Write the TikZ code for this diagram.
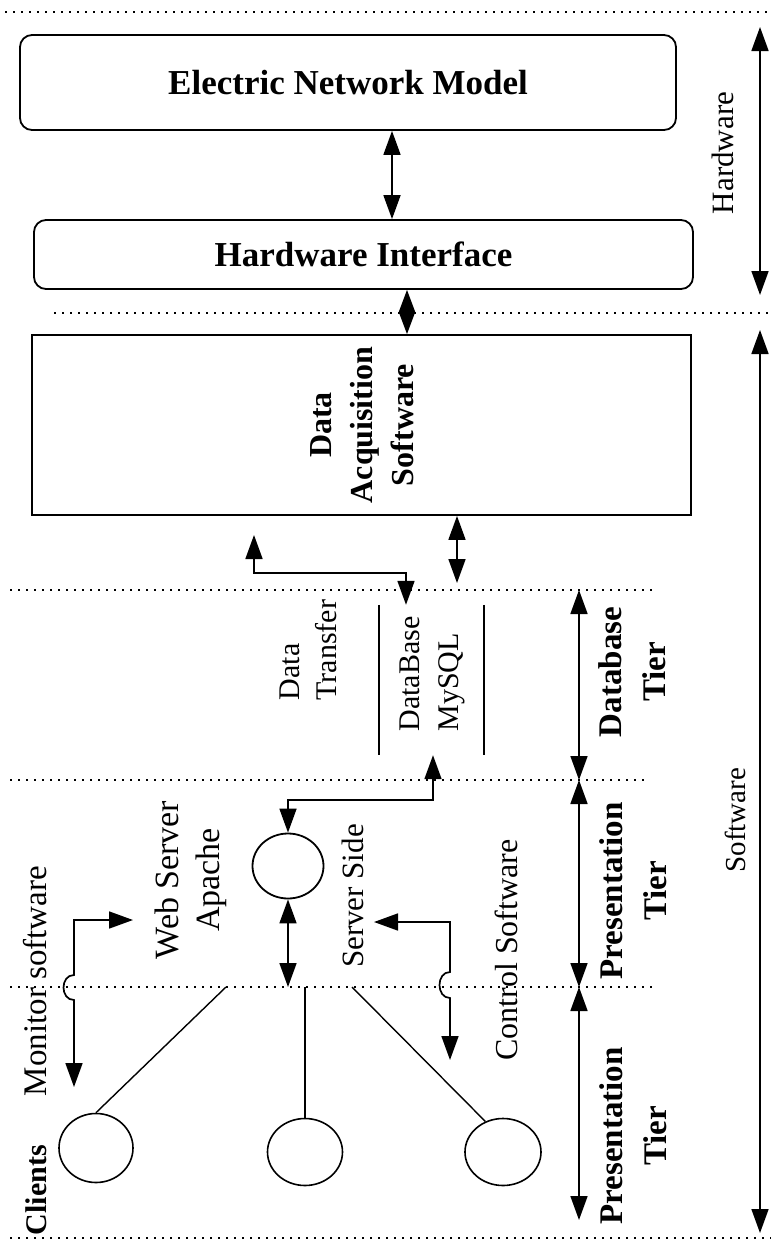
\documentclass[tikz,border=0pt]{standalone}
\usepackage{fontspec}
\setmainfont{Liberation Serif}
\usetikzlibrary{arrows.meta,shapes.geometric,calc}
\begin{document}
\begin{tikzpicture}[x=1pt,y=-1pt,
  box/.style={draw,line width=1.8pt,inner sep=0pt},
  rbox/.style={box,rounded corners=12pt},
  lbl/.style={align=center,inner sep=0pt,rotate=90},
  sep/.style={line width=1.6pt,dash pattern=on 1.6pt off 6.4pt},
  tip/.tip={Triangle[length=24pt,width=17pt]},
  dbl/.style={line width=1.7pt,tip-tip},
  cl/.style={draw,ellipse,line width=1.6pt,inner sep=0pt},
  cline/.style={line width=1.4pt}
]
\useasboundingbox (0,0) rectangle (771,1248);

% separators
\coordinate (s0a) at (5,12);   \coordinate (s0b) at (771,12);
\coordinate (s1a) at (54,313); \coordinate (s1b) at (771,313);
\coordinate (s2a) at (10,590); \coordinate (s2b) at (654,590);
\coordinate (s3a) at (10,780); \coordinate (s3b) at (649,780);
\coordinate (s4a) at (10,987); \coordinate (s4b) at (656,987);
\coordinate (s5a) at (10,1238);\coordinate (s5b) at (771,1238);
\foreach \a/\b in {s0a/s0b,s1a/s1b,s2a/s2b,s3a/s3b,s4a/s4b,s5a/s5b}
  \draw[sep] (\a) -- (\b);

% hardware boxes
\node[rbox,minimum width=656pt,minimum height=95pt,
  font=\fontsize{35}{40}\selectfont\bfseries] (enm) at (348,82.5) {Electric Network Model};
\node[rbox,minimum width=659pt,minimum height=69pt,
  font=\fontsize{35}{40}\selectfont\bfseries] (hi) at (363.5,254.5) {Hardware Interface};
\node[box,minimum width=659pt,minimum height=180pt] (das) at (361.5,425) {};
\node[lbl,font=\fontsize{32}{41}\selectfont\bfseries] (dastxt) at (362,425) {Data\\Acquisition\\Software};

% database
\node[inner sep=0pt,minimum width=105pt,minimum height=150pt] (db) at (431.5,680) {};
\draw[line width=2pt] (db.north west) -- (db.south west);
\draw[line width=2pt] (db.north east) -- (db.south east);
\node[lbl,align=left,font=\fontsize{30}{39}\selectfont] (dbtxt) at (432.5,674) {DataBase\\MySQL};
\node[lbl,align=left,font=\fontsize{30}{37}\selectfont] (dttxt) at (308.5,650) {Data\\Transfer};

% web server
\node[cl,line width=1.8pt,minimum width=71pt,minimum height=65pt] (ws) at (288,866) {};
\node[lbl,font=\fontsize{34}{41}\selectfont] (wstxt) at (190.5,880) {Web Server\\Apache};
\node[lbl,font=\fontsize{31}{36}\selectfont] (sstxt) at (353,896) {Server Side};
\node[lbl,font=\fontsize{32}{36}\selectfont] (cstxt) at (506,950) {Control Software};
\node[lbl,font=\fontsize{33}{36}\selectfont] (mstxt) at (35,981) {Monitor software};
\node[lbl,font=\fontsize{30}{36}\selectfont\bfseries] (cltxt) at (36,1190) {Clients};

% clients
\node[cl,minimum width=74pt,minimum height=69pt] (c1) at (96,1148) {};
\node[cl,minimum width=75pt,minimum height=67pt] (c2) at (305,1152) {};
\node[cl,minimum width=76pt,minimum height=67pt] (c3) at (503,1152) {};
\coordinate (l1) at (226,987);
\coordinate (l2) at (305,987);
\coordinate (l3) at (352,987);
\draw[cline] (c1.north) -- (l1);
\draw[cline] (c2.north) -- (l2);
\draw[cline] (c3.120) -- (l3);

% tier labels
\node[lbl,font=\fontsize{33}{44}\selectfont\bfseries] (dbtier) at (632,672) {Database\\Tier};
\node[lbl,font=\fontsize{33}{44}\selectfont\bfseries] (pt1) at (633,891) {Presentation\\Tier};
\node[lbl,font=\fontsize{33}{44}\selectfont\bfseries] (pt2) at (633,1136) {Presentation\\Tier};
\node[lbl,font=\fontsize{31}{36}\selectfont] (hwtxt) at (723,153) {Hardware};
\node[lbl,font=\fontsize{29}{36}\selectfont] (swtxt) at (735,820) {Software};

% right-side extent arrows
\coordinate (hwA) at (760,27);  \coordinate (hwB) at (760,295);
\coordinate (swA) at (760,330); \coordinate (swB) at (760,1233);
\draw[dbl] (hwA) -- (hwB);
\draw[dbl] (swA) -- (swB);
\coordinate (tA) at (579,590); \coordinate (tB) at (579,780);
\coordinate (tC) at (579,987); \coordinate (tD) at (579,1220);
\draw[dbl] (tA) -- (tB);
\draw[dbl] (tB) -- (tC);
\draw[dbl] (tC) -- (tD);

% connectors
\coordinate (colA) at (392,0);
\coordinate (colB) at (407,0);
\coordinate (colC) at (457,0);
\coordinate (colD) at (406,0);
\coordinate (colE) at (433,0);
\draw[dbl] (enm.south -| colA) -- (hi.north -| colA);
\draw[line width=1.7pt,{Triangle[length=22pt,width=16pt]}-{Triangle[length=22pt,width=16pt]}] (hi.south -| colB) -- (das.north -| colB);
\coordinate (dbA) at (457,583);
\draw[dbl] (das.south -| colC) -- (dbA);
\coordinate (dtA) at (254,535);
\coordinate (dtB) at (254,573);
\draw[dbl] (dtA) -- (dtB) -| (db.north -| colD);
\draw[dbl] (db.south -| colE) -- ++(0,45) -| (ws.north);
\coordinate (wsB) at (288,987);
\draw[dbl] (ws.south) -- (wsB);

% monitor software arrow with jump
\coordinate (monA) at (133,920);
\coordinate (monB) at (74,920);
\coordinate (monJ1) at (74,975);
\coordinate (monJ2) at (74,1000);
\coordinate (monC) at (74,1087);
\draw[dbl] (monA) -- (monB) -- (monJ1) .. controls +(-14,0) and +(-14,0) .. (monJ2) -- (monC);

% control software arrow with jump
\coordinate (csA) at (374,922);
\coordinate (csB) at (450,922);
\coordinate (csJ1) at (450,972);
\coordinate (csJ2) at (450,998);
\coordinate (csC) at (450,1060);
\draw[dbl] (csA) -- (csB) -- (csJ1) .. controls +(-14,0) and +(-14,0) .. (csJ2) -- (csC);
\end{tikzpicture}
\end{document}
